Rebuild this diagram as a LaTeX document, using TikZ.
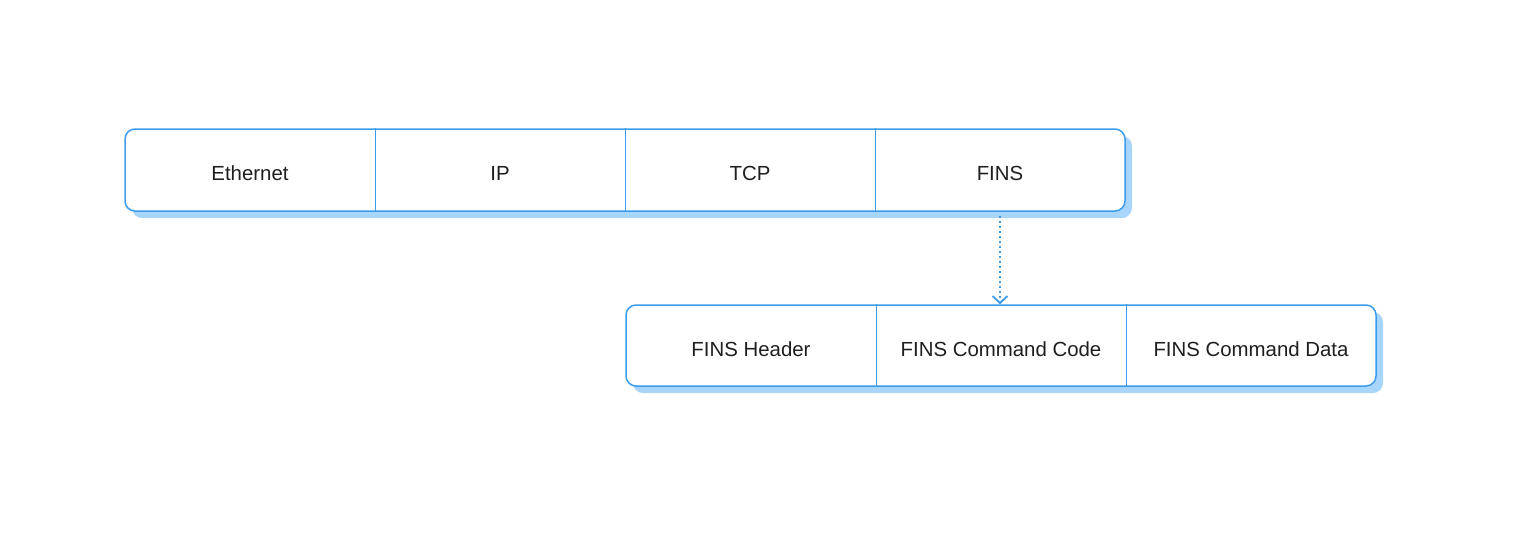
\documentclass[tikz,border=0pt]{standalone}
\usepackage{fontspec}
\setmainfont{Liberation Sans}
\usetikzlibrary{arrows.meta}
\definecolor{edge}{HTML}{3C9CEB}
\definecolor{shade}{HTML}{A8D5FB}
\begin{document}
\begin{tikzpicture}[x=0.5pt,y=-0.5pt,
  bar/.style={draw=edge, line width=0.75pt, fill=white, rounded corners=5pt, minimum height=41pt, inner sep=0pt},
  shadowbar/.style={fill=shade, draw=none, rounded corners=5pt, minimum height=41pt, inner sep=0pt},
  cell/.style={minimum width=125pt, inner sep=0pt, font=\fontsize{10.2}{12}\selectfont, text=black!88},
  divider/.style={draw=edge, line width=0.75pt},
  link/.style={draw=edge, line width=1.1pt, dash pattern=on 1.1pt off 1.4pt, shorten <=2pt,
    -{Straight Barb[length=3.5pt,width=7.5pt,line width=0.9pt]}}]
\useasboundingbox (0,0) rectangle (1520,542);
% top frame
\node[shadowbar, minimum width=500pt] (topshadow) at (632,177) {};
\node[bar, minimum width=500pt] (topbar) at (625,170) {};
\node[cell] (eth) at (250,173) {Ethernet};
\node[cell] (ip) at (500,173) {IP};
\node[cell] (tcp) at (750,173) {TCP};
\node[cell] (fins) at (1000,173) {FINS};
\draw[divider] (eth.east |- topbar.north) -- (eth.east |- topbar.south);
\draw[divider] (ip.east |- topbar.north) -- (ip.east |- topbar.south);
\draw[divider] (tcp.east |- topbar.north) -- (tcp.east |- topbar.south);
% bottom frame
\node[shadowbar, minimum width=375pt, minimum height=40.5pt] (botshadow) at (1008,352.5) {};
\node[bar, minimum width=375pt, minimum height=40.5pt] (botbar) at (1001,345.5) {};
\node[cell] (fh) at (751,349) {FINS Header};
\node[cell] (fcc) at (1001,349) {FINS Command Code};
\node[cell] (fcd) at (1251,349) {FINS Command Data};
\draw[divider] (fh.east |- botbar.north) -- (fh.east |- botbar.south);
\draw[divider] (fcc.east |- botbar.north) -- (fcc.east |- botbar.south);
% link
\draw[link] (fins |- topbar.south) -- (fins |- botbar.north);
\end{tikzpicture}
\end{document}
